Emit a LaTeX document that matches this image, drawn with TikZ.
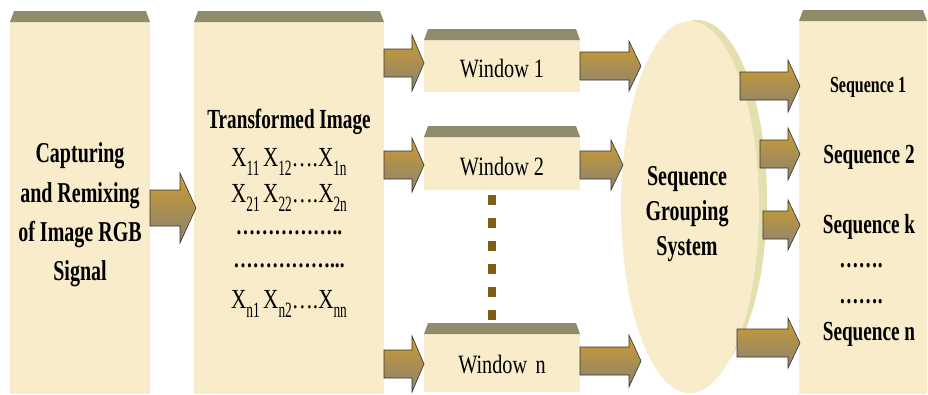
\documentclass[tikz,border=0pt]{standalone}
\usepackage{fontspec}
\setmainfont{Liberation Serif}
\usepackage{graphicx}
\usetikzlibrary{shapes.geometric}
\definecolor{boxfill}{HTML}{F8ECCB}
\definecolor{bevel}{HTML}{8F8C6C}
\definecolor{arrtop}{HTML}{CC9C30}
\definecolor{arrbot}{HTML}{8A8272}
\definecolor{rimcol}{HTML}{E4DFAE}
\definecolor{dashcol}{HTML}{7E5E12}
\newcommand\blockarr[6]{% x1,x2,yc,shafthalf,headhalf,headlen
  \shade[top color=arrtop, bottom color=arrbot, draw=black!80, line width=0.6pt, line join=miter]
    (#1,#3-#4) -- (#2-#6,#3-#4) -- (#2-#6,#3-#5) -- (#2,#3) -- (#2-#6,#3+#5) -- (#2-#6,#3+#4) -- (#1,#3+#4) -- cycle;}
\newcommand\colbox[5]{% name, x1, x2, ytop, ybot
  \fill[boxfill] (#2,#4+11) rectangle (#3,#5);
  \fill[bevel] (#2,#4+11) -- (#2+4,#4) -- (#3-4,#4) -- (#3,#4+11) -- cycle;
  \coordinate (#1-nw) at (#2,#4+11);
  \coordinate (#1-se) at (#3,#5);}
\newcommand\bt[2]{\scalebox{0.8}[1.15]{\fontsize{#1}{#1}\selectfont\bfseries #2}}
\newcommand\rt[2]{\scalebox{0.88}[1.15]{\fontsize{#1}{#1}\selectfont #2}}
\newcommand\xs[1]{X\raisebox{-0.32em}{\scalebox{0.8}[1]{\fontsize{19}{19}\selectfont #1}}}
\begin{document}
\begin{tikzpicture}[x=1pt,y=-1pt]
\useasboundingbox (0,0) rectangle (928,394);
\fill[white] (0,0) rectangle (928,394);
% columns
\colbox{c1}{10}{150}{11}{394}
\colbox{c2}{194}{384}{11}{394}
\colbox{c5}{799}{927}{10}{394}
% windows
\colbox{w1}{424}{580}{29}{92}
\colbox{w2}{424}{580}{126}{190}
\colbox{wn}{424}{580}{323}{392}
% dashed connector between window 2 and window n
\coordinate (d1) at (492,192);
\coordinate (d2) at (492,323);
\draw[dashcol, line width=8pt, dash pattern=on 10pt off 13pt, dash phase=-3pt] (d1) -- (d2);
% ellipse
\fill[rimcol] (697,200) ellipse [x radius=70, y radius=180];
\node[ellipse, fill=boxfill, minimum width=138pt, minimum height=372pt, inner sep=0pt] (sgs) at (690,207) {};
\node[align=center, inner sep=0pt] (sgst) at (687,214) {\bt{25}{Sequence}\\[8pt]\bt{25}{Grouping}\\[8pt]\bt{25}{System}};
% texts
\node[align=center, inner sep=0pt] (c1t) at (80,215) {\bt{25}{Capturing}\\[12pt]\bt{25}{and Remixing}\\[12pt]\bt{25}{of Image RGB}\\[12pt]\bt{25}{Signal}};
\node[inner sep=0pt] (c2t) at (289,122) {\bt{24}{Transformed Image}};
\node[inner sep=0pt] (r1) at (289,162) {\rt{24}{\xs{11}\,\xs{12}….\xs{1n}}};
\node[inner sep=0pt] (r2) at (289,198) {\rt{24}{\xs{21}\,\xs{22}….\xs{2n}}};
\node[inner sep=0pt] (r3) at (289,233) {\rt{22}{\textbf{……………..}}};
\node[inner sep=0pt] (r4) at (289,266) {\rt{22}{\textbf{……………...}}};
\node[inner sep=0pt] (r5) at (289,304) {\rt{24}{\xs{n1}\,\xs{n2}….\xs{nn}}};
\node[inner sep=0pt] (w1t) at (502,69) {\rt{23}{Window 1}};
\node[inner sep=0pt] (w2t) at (502,167) {\rt{23}{Window 2}};
\node[inner sep=0pt] (wnt) at (502,365) {\rt{23}{Window\, n}};
\node[inner sep=0pt] (s1) at (868,87) {\bt{20}{Sequence 1}};
\node[inner sep=0pt] (s2) at (869,157) {\bt{24}{Sequence 2}};
\node[inner sep=0pt] (sk) at (869,227) {\bt{24}{Sequence k}};
\node[inner sep=0pt] (sd1) at (861,266) {\bt{24}{…….}};
\node[inner sep=0pt] (sd2) at (861,302) {\bt{24}{…….}};
\node[inner sep=0pt] (sn) at (869,334) {\bt{24}{Sequence n}};
% arrows
\blockarr{150}{196}{208}{18}{35}{16}
\blockarr{384}{424}{63}{14}{28}{12}
\blockarr{384}{424}{165}{14}{27}{12}
\blockarr{384}{424}{364}{14}{28}{12}
\blockarr{580}{641}{66}{14}{25}{12}
\blockarr{580}{623}{165}{14}{25}{12}
\blockarr{580}{641}{361}{14}{26}{12}
\blockarr{740}{800}{86}{14}{26}{12}
\blockarr{760}{800}{154}{14}{26}{12}
\blockarr{763}{800}{225}{14}{25}{12}
\blockarr{737}{800}{343}{14}{25}{12}
\end{tikzpicture}
\end{document}
